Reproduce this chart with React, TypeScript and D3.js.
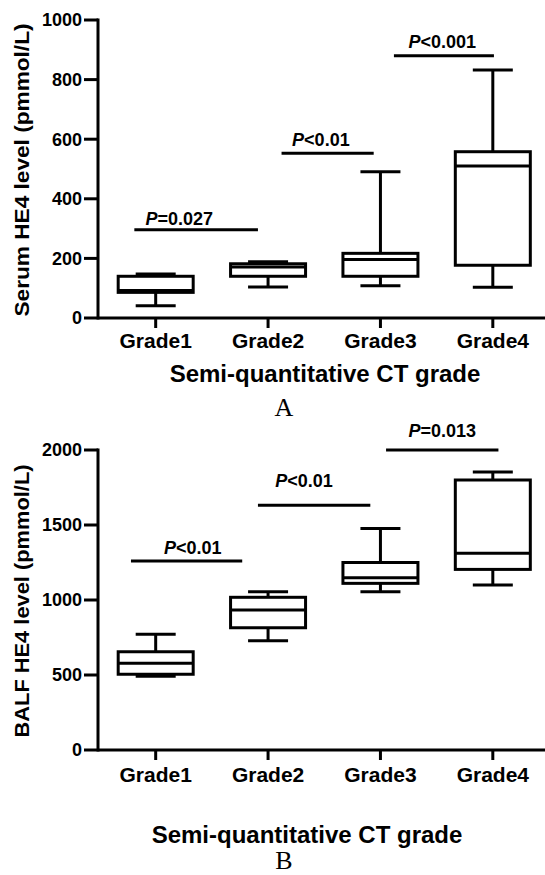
import React from "react";
import * as d3 from "d3";

const grades = ["Grade1", "Grade2", "Grade3", "Grade4"];

// panel A: serum HE4
const serumMin = [41, 104, 108, 103];
const serumQ1 = [86, 140, 140, 177];
const serumMedian = [92, 171, 196, 510];
const serumQ3 = [140, 182, 217, 558];
const serumMax = [148, 189, 491, 832];
const serumTicks = [0, 200, 400, 600, 800, 1000];
const serumP = ["=0.027", "<0.01", "<0.001"];
const serumPFrom = [-0.19, 1.12, 2.12];
const serumPTo = [0.91, 1.94, 3.01];
const serumPLevel = [296, 553, 880];
const serumPTextLevel = [312, 578, 905];
const serumPTextAt = [0.21, 1.47, 2.55];

// panel B: BALF HE4
const balfMin = [492, 729, 1055, 1100];
const balfQ1 = [505, 815, 1111, 1204];
const balfMedian = [578, 933, 1149, 1311];
const balfQ3 = [655, 1018, 1250, 1800];
const balfMax = [771, 1055, 1477, 1854];
const balfTicks = [0, 500, 1000, 1500, 2000];
const balfP = ["<0.01", "<0.01", "=0.013"];
const balfPFrom = [-0.22, 0.91, 2.05];
const balfPTo = [0.77, 1.91, 3.05];
const balfPLevel = [1260, 1631, 2000];
const balfPTextLevel = [1307, 1755, 2087];
const balfPTextAt = [0.33, 1.32, 2.55];

const FONT = "'Liberation Sans', Arial, sans-serif";

function Panel(props) {
  const {
    top, bottom, yMax, ticks, mins, q1s, meds, q3s, maxs,
    pLabels, pFrom, pTo, pLevel, pTextLevel, pTextAt,
    yTitle, yTitleLen, gradeY, titleY, titleX, letter, letterY,
  } = props;

  const axisX = 98;
  const x = d3.scalePoint().domain(grades).range([99.5, 549]).padding(0.5);
  const xi = d3.scaleLinear().domain([0, 3]).range([x(grades[0]), x(grades[3])]);
  const y = d3.scaleLinear().domain([0, yMax]).range([bottom, top]);
  const boxW = 75;
  const capW = 40;
  const sw = 3;

  return (
    <g>
      {/* boxes */}
      {grades.map((g, i) => {
        const cx = x(g);
        return (
          <g key={g} stroke="#000" strokeWidth={sw} fill="none">
            <line x1={cx} x2={cx} y1={y(maxs[i])} y2={y(q3s[i])} />
            <line x1={cx} x2={cx} y1={y(q1s[i])} y2={y(mins[i])} />
            <line x1={cx - capW / 2} x2={cx + capW / 2} y1={y(maxs[i])} y2={y(maxs[i])} />
            <line x1={cx - capW / 2} x2={cx + capW / 2} y1={y(mins[i])} y2={y(mins[i])} />
            <rect x={cx - boxW / 2} y={y(q3s[i])} width={boxW} height={y(q1s[i]) - y(q3s[i])} />
            <line x1={cx - boxW / 2} x2={cx + boxW / 2} y1={y(meds[i])} y2={y(meds[i])} />
          </g>
        );
      })}

      {/* significance bars */}
      {pLabels.map((lab, i) => (
        <g key={i}>
          <line
            x1={xi(pFrom[i])} x2={xi(pTo[i])}
            y1={y(pLevel[i])} y2={y(pLevel[i])}
            stroke="#000" strokeWidth={sw}
          />
          <text
            x={xi(pTextAt[i])} y={y(pTextLevel[i])}
            textAnchor="middle" fontFamily={FONT} fontWeight="bold" fontSize={18}
          >
            <tspan fontStyle="italic">P</tspan>{lab}
          </text>
        </g>
      ))}

      {/* y axis */}
      <line x1={axisX} x2={axisX} y1={y(yMax) - 1.5} y2={bottom + 1.5} stroke="#000" strokeWidth={sw} />
      {ticks.map((t) => (
        <g key={t}>
          <line x1={axisX - 14} x2={axisX} y1={y(t)} y2={y(t)} stroke="#000" strokeWidth={sw} />
          <text
            x={axisX - 16} y={y(t)} dy="0.36em" textAnchor="end"
            fontFamily={FONT} fontWeight="bold" fontSize={18}
          >
            {t}
          </text>
        </g>
      ))}
      <text
        transform={`translate(29, ${(top + bottom) / 2 + 1}) rotate(-90)`}
        textAnchor="middle" fontFamily={FONT} fontWeight="bold" fontSize={21}
        textLength={yTitleLen} lengthAdjust="spacingAndGlyphs"
      >
        {yTitle}
      </text>

      {/* x axis */}
      <line x1={axisX} x2={545} y1={bottom} y2={bottom} stroke="#000" strokeWidth={sw} />
      {grades.map((g) => (
        <g key={g}>
          <line x1={x(g)} x2={x(g)} y1={bottom} y2={bottom + 10} stroke="#000" strokeWidth={sw} />
          <text
            x={x(g)} y={gradeY} textAnchor="middle"
            fontFamily={FONT} fontWeight="bold" fontSize={21}
          >
            {g}
          </text>
        </g>
      ))}
      <text
        x={titleX} y={titleY} textAnchor="middle"
        fontFamily={FONT} fontWeight="bold" fontSize={24}
      >
        Semi-quantitative CT grade
      </text>
      <text
        x={284} y={letterY} textAnchor="middle"
        fontFamily="'Liberation Serif', 'Times New Roman', serif" fontSize={26}
      >
        {letter}
      </text>
    </g>
  );
}

export default function App() {
  return (
    <div style={{ position: "absolute", left: 0, top: 0 }}>
      <svg width={545} height={875} style={{ display: "block", background: "#fff" }}>
        <Panel
          top={20} bottom={318} yMax={1000} ticks={serumTicks}
          mins={serumMin} q1s={serumQ1} meds={serumMedian} q3s={serumQ3} maxs={serumMax}
          pLabels={serumP} pFrom={serumPFrom} pTo={serumPTo}
          pLevel={serumPLevel} pTextLevel={serumPTextLevel} pTextAt={serumPTextAt}
          yTitle="Serum HE4 level (pmmol/L)" yTitleLen={293}
          gradeY={348} titleX={325} titleY={382} letter="A" letterY={416}
        />
        <Panel
          top={450} bottom={750} yMax={2000} ticks={balfTicks}
          mins={balfMin} q1s={balfQ1} meds={balfMedian} q3s={balfQ3} maxs={balfMax}
          pLabels={balfP} pFrom={balfPFrom} pTo={balfPTo}
          pLevel={balfPLevel} pTextLevel={balfPTextLevel} pTextAt={balfPTextAt}
          yTitle="BALF HE4 level (pmmol/L)" yTitleLen={273}
          gradeY={782} titleX={307} titleY={843} letter="B" letterY={869}
        />
      </svg>
    </div>
  );
}
